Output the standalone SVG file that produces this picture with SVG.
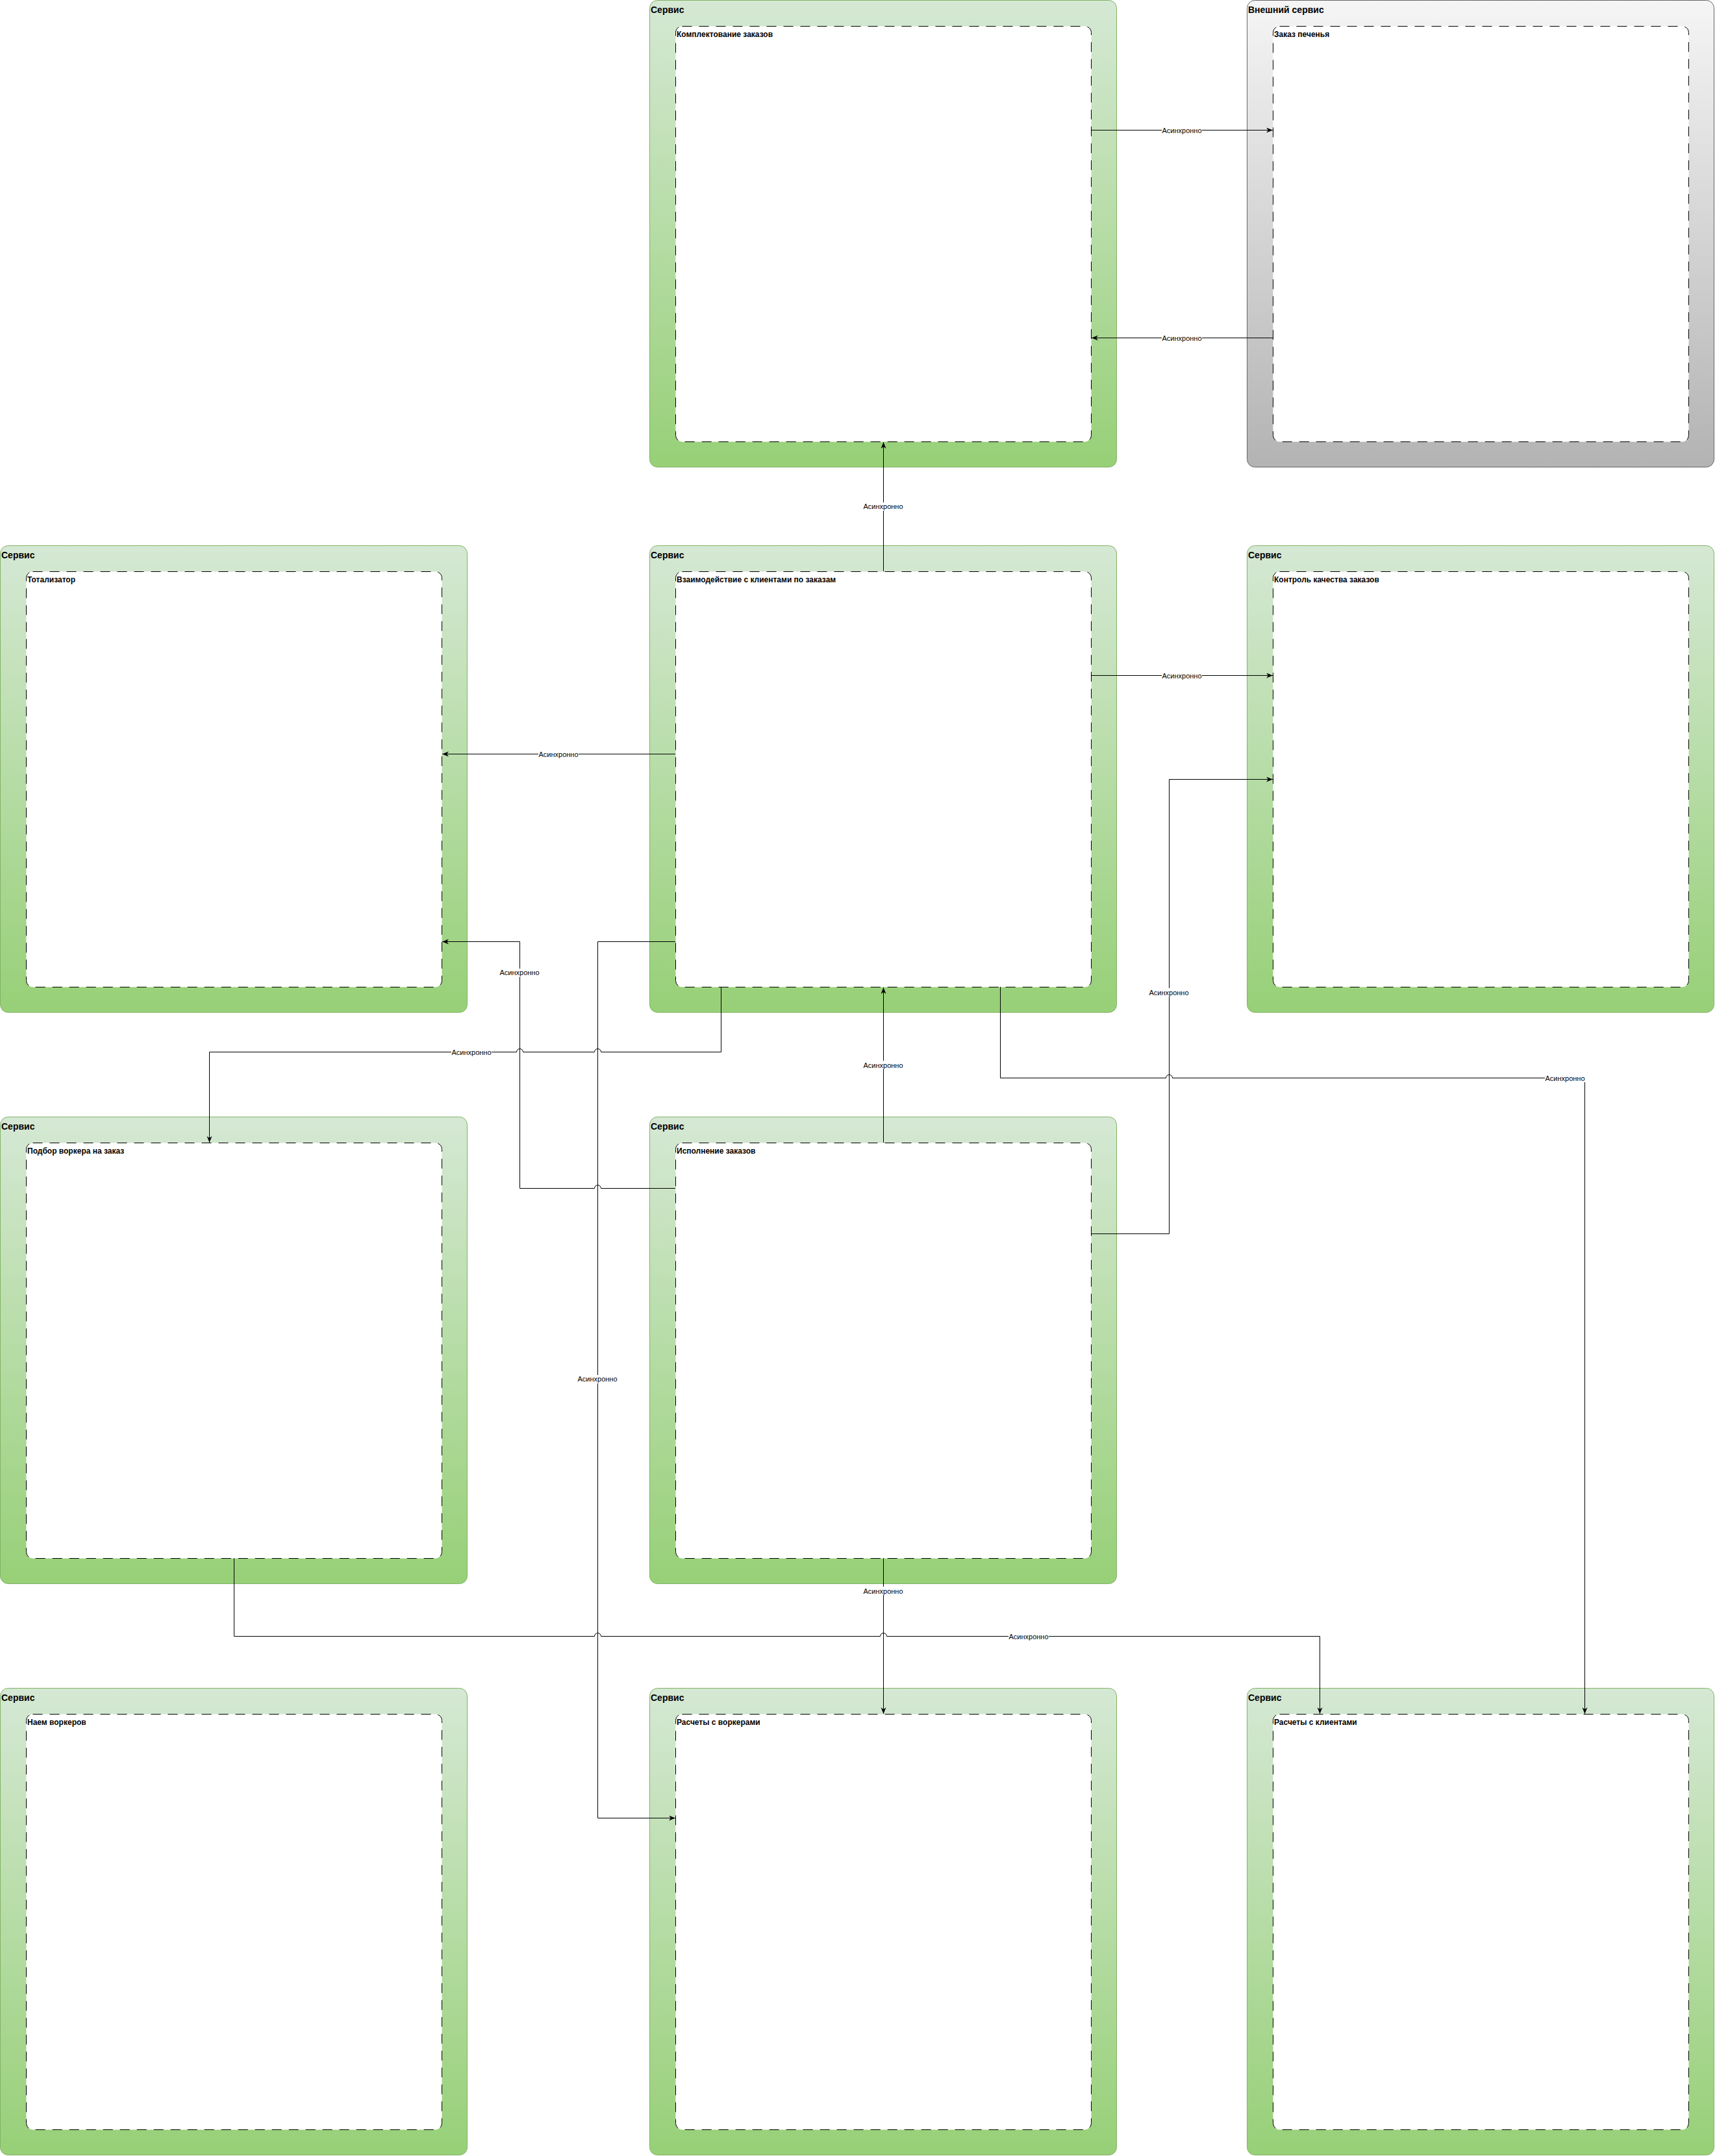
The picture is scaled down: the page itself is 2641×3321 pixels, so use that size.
<svg xmlns="http://www.w3.org/2000/svg" width="2641" height="3321" viewBox="0 0 2641 3321">
<defs>
<linearGradient id="gGreen" x1="0" y1="0" x2="0" y2="1"><stop offset="0" stop-color="#d5e8d4"/><stop offset="1" stop-color="#97d077"/></linearGradient>
<linearGradient id="gGray" x1="0" y1="0" x2="0" y2="1"><stop offset="0" stop-color="#f5f5f5"/><stop offset="1" stop-color="#b3b3b3"/></linearGradient>
<marker id="arr" markerUnits="userSpaceOnUse" markerWidth="12" markerHeight="10" refX="10" refY="4" orient="auto"><path d="M0,0 L10,4 L0,8 L3,4 Z" fill="#000"/></marker>
</defs>
<style>
.svc{fill:url(#gGreen);stroke:#82b366;stroke-width:1}
.ext{fill:url(#gGray);stroke:#666666;stroke-width:1}
.inner{fill:#ffffff;stroke:#000000;stroke-width:1;stroke-dasharray:15 11}
.title{font-family:"Liberation Sans",Arial,sans-serif;font-size:14px;font-weight:bold;fill:#000}
.lbl{font-family:"Liberation Sans",Arial,sans-serif;font-size:12px;font-weight:bold;fill:#000}
.edge{fill:none;stroke:#000;stroke-width:1}
.el{font-family:"Liberation Sans",Arial,sans-serif;font-size:11px;fill:#000;text-anchor:middle;dominant-baseline:central}
.elbg{fill:#fff}
</style>
<g id="n-komplekt"><rect class="svc" x="1000.5" y="0.5" width="719" height="719" rx="12"/><text class="title" x="1002" y="20">Сервис</text><rect class="inner" x="1040.5" y="40.5" width="640" height="640" rx="10"/><text class="lbl" x="1042" y="57">Комплектование заказов</text></g>
<g id="n-pechenye"><rect class="ext" x="1920.5" y="0.5" width="719" height="719" rx="12"/><text class="title" x="1922" y="20">Внешний сервис</text><rect class="inner" x="1960.5" y="40.5" width="640" height="640" rx="10"/><text class="lbl" x="1962" y="57">Заказ печенья</text></g>
<g id="n-totalizator"><rect class="svc" x="0.5" y="840.5" width="719" height="719" rx="12"/><text class="title" x="2" y="860">Сервис</text><rect class="inner" x="40.5" y="880.5" width="640" height="640" rx="10"/><text class="lbl" x="42" y="897">Тотализатор</text></g>
<g id="n-vzaimodeystvie"><rect class="svc" x="1000.5" y="840.5" width="719" height="719" rx="12"/><text class="title" x="1002" y="860">Сервис</text><rect class="inner" x="1040.5" y="880.5" width="640" height="640" rx="10"/><text class="lbl" x="1042" y="897">Взаимодействие с клиентами по заказам</text></g>
<g id="n-kontrol"><rect class="svc" x="1920.5" y="840.5" width="719" height="719" rx="12"/><text class="title" x="1922" y="860">Сервис</text><rect class="inner" x="1960.5" y="880.5" width="640" height="640" rx="10"/><text class="lbl" x="1962" y="897">Контроль качества заказов</text></g>
<g id="n-podbor"><rect class="svc" x="0.5" y="1720.5" width="719" height="719" rx="12"/><text class="title" x="2" y="1740">Сервис</text><rect class="inner" x="40.5" y="1760.5" width="640" height="640" rx="10"/><text class="lbl" x="42" y="1777">Подбор воркера на заказ</text></g>
<g id="n-ispolnenie"><rect class="svc" x="1000.5" y="1720.5" width="719" height="719" rx="12"/><text class="title" x="1002" y="1740">Сервис</text><rect class="inner" x="1040.5" y="1760.5" width="640" height="640" rx="10"/><text class="lbl" x="1042" y="1777">Исполнение заказов</text></g>
<g id="n-naem"><rect class="svc" x="0.5" y="2600.5" width="719" height="719" rx="12"/><text class="title" x="2" y="2620">Сервис</text><rect class="inner" x="40.5" y="2640.5" width="640" height="640" rx="10"/><text class="lbl" x="42" y="2657">Наем воркеров</text></g>
<g id="n-raschety-vork"><rect class="svc" x="1000.5" y="2600.5" width="719" height="719" rx="12"/><text class="title" x="1002" y="2620">Сервис</text><rect class="inner" x="1040.5" y="2640.5" width="640" height="640" rx="10"/><text class="lbl" x="1042" y="2657">Расчеты с воркерами</text></g>
<g id="n-raschety-kl"><rect class="svc" x="1920.5" y="2600.5" width="719" height="719" rx="12"/><text class="title" x="1922" y="2620">Сервис</text><rect class="inner" x="1960.5" y="2640.5" width="640" height="640" rx="10"/><text class="lbl" x="1962" y="2657">Расчеты с клиентами</text></g>
<g id="connectors">
<path class="edge" marker-end="url(#arr)" d="M1680,200.5 L1960,200.5"/>
<path class="edge" marker-end="url(#arr)" d="M1960,520.5 L1681,520.5"/>
<path class="edge" marker-end="url(#arr)" d="M1360.5,880 L1360.5,681"/>
<path class="edge" marker-end="url(#arr)" d="M1680,1040.5 L1960,1040.5"/>
<path class="edge" marker-end="url(#arr)" d="M1040,1161.5 L681,1161.5"/>
<path class="edge" marker-end="url(#arr)" d="M1040,1450.5 L920.5,1450.5 L920.5,2800.5 L1040,2800.5"/>
<path class="edge" marker-end="url(#arr)" d="M1110.5,1520 L1110.5,1620.5 L925.5,1620.5 A5,5 0 0 0 915.5,1620.5 L805.5,1620.5 A5,5 0 0 0 795.5,1620.5 L322.5,1620.5 L322.5,1760"/>
<path class="edge" marker-end="url(#arr)" d="M1540.5,1520 L1540.5,1660.5 L1795.5,1660.5 A5,5 0 0 1 1805.5,1660.5 L2440.5,1660.5 L2440.5,2640"/>
<path class="edge" marker-end="url(#arr)" d="M1680,1900.5 L1800.5,1900.5 L1800.5,1200.5 L1960,1200.5"/>
<path class="edge" marker-end="url(#arr)" d="M1360.5,1760 L1360.5,1521"/>
<path class="edge" marker-end="url(#arr)" d="M1360.5,2400 L1360.5,2640"/>
<path class="edge" marker-end="url(#arr)" d="M360.5,2400 L360.5,2520.5 L915.5,2520.5 A5,5 0 0 1 925.5,2520.5 L1355.5,2520.5 A5,5 0 0 1 1365.5,2520.5 L2032.5,2520.5 L2032.5,2640"/>
<path class="edge" marker-end="url(#arr)" d="M1040,1830.5 L925.5,1830.5 A5,5 0 0 0 915.5,1830.5 L800.5,1830.5 L800.5,1450.5 L681,1450.5"/>
<g id="edge-labels">
<rect class="elbg" x="1789" y="194" width="62" height="13"/><text class="el" x="1820" y="200.5">Асинхронно</text>
<rect class="elbg" x="1789" y="514" width="62" height="13"/><text class="el" x="1820" y="520.5">Асинхронно</text>
<rect class="elbg" x="1329" y="774" width="62" height="13"/><text class="el" x="1360" y="780">Асинхронно</text>
<rect class="elbg" x="1789" y="1034" width="62" height="13"/><text class="el" x="1820" y="1040.5">Асинхронно</text>
<rect class="elbg" x="829" y="1155" width="62" height="13"/><text class="el" x="860" y="1161.5">Асинхронно</text>
<rect class="elbg" x="889" y="2118" width="62" height="13"/><text class="el" x="920" y="2124">Асинхронно</text>
<rect class="elbg" x="695" y="1614" width="62" height="13"/><text class="el" x="726" y="1620.5">Асинхронно</text>
<rect class="elbg" x="2379" y="1654" width="62" height="13"/><text class="el" x="2410" y="1660.5">Асинхронно</text>
<rect class="elbg" x="1769" y="1522" width="62" height="13"/><text class="el" x="1800" y="1528.5">Асинхронно</text>
<rect class="elbg" x="1329" y="1634" width="62" height="13"/><text class="el" x="1360" y="1640.5">Асинхронно</text>
<rect class="elbg" x="1329" y="2444" width="62" height="13"/><text class="el" x="1360" y="2450.5">Асинхронно</text>
<rect class="elbg" x="1553" y="2514" width="62" height="13"/><text class="el" x="1584" y="2520.5">Асинхронно</text>
<rect class="elbg" x="769" y="1492" width="62" height="13"/><text class="el" x="800" y="1498">Асинхронно</text>
</g>
</g>
</svg>
